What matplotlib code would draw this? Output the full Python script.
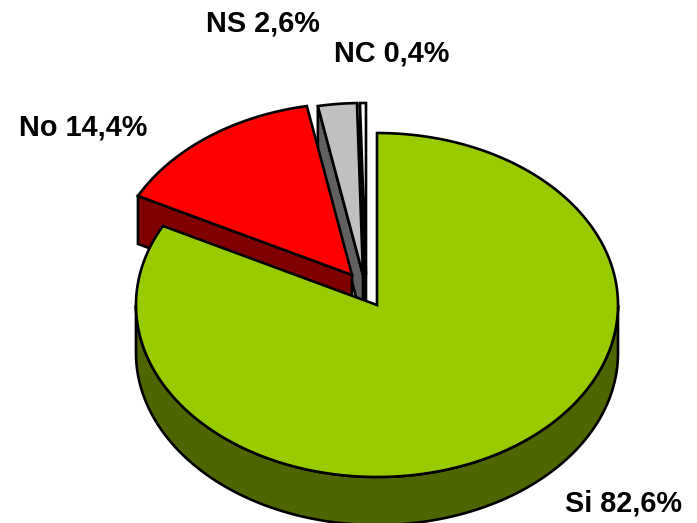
import numpy as np
import matplotlib
matplotlib.use("Agg")
import matplotlib.pyplot as plt
from matplotlib.patches import Polygon

plt.rcParams["font.family"] = ["Liberation Sans", "DejaVu Sans"]

labels = ["Si", "No", "NS", "NC"]
shares = [82.6, 14.4, 2.6, 0.4]
top_colors = ["#99cc00", "#ff0000", "#c0c0c0", "#ffffff"]
side_colors = ["#4d6600", "#800000", "#606060", "#808080"]
explode_dx = [0, -25, -14, -11]
explode_dy = [0, -30, -30, -30]
label_text = ["Si 82,6%", "No 14,4%", "NS 2,6%", "NC 0,4%"]
label_x = [565, 19, 206, 334]
label_y = [511, 135, 32, 62]

CX, CY = 377, 305
RX, RY = 241, 172
DEPTH = 48
LW = 1.9


def rim(cx, cy, t0, t1):
    # t in degrees, clockwise from 12 o'clock
    t = np.radians(np.linspace(t0, t1, max(int(abs(t1 - t0)) * 2, 2) + 1))
    return np.column_stack([cx + RX * np.sin(t), cy - RY * np.cos(t)])


def draw_slice(ax, i, t0, t1):
    cx, cy = CX + explode_dx[i], CY + explode_dy[i]
    kw = dict(edgecolor="black", linewidth=LW, joinstyle="miter", closed=True)
    apex = np.array([cx, cy])
    down = np.array([0, DEPTH])

    # cut faces (first edge is the one seen from the front here)
    start = rim(cx, cy, t0, t0)[0]
    ax.add_patch(Polygon([start, apex, apex + down, start + down],
                         facecolor=side_colors[i], **kw))

    # outer wall, only the lower half of the ellipse shows
    a, b = max(t0, 90), min(t1, 270)
    if a < b:
        arc = rim(cx, cy, a, b)
        ax.add_patch(Polygon(np.vstack([arc, (arc + down)[::-1]]),
                             facecolor=side_colors[i], **kw))

    top = np.vstack([apex, rim(cx, cy, t0, t1)])
    ax.add_patch(Polygon(top, facecolor=top_colors[i], **kw))


def main():
    fig = plt.figure(figsize=(6.97, 5.23), dpi=100)
    ax = fig.add_axes([0, 0, 1, 1])
    ax.set_xlim(0, 697)
    ax.set_ylim(523, 0)
    ax.axis("off")

    edges = np.concatenate([[0], np.cumsum(shares) / np.sum(shares) * 360])
    # back slices first, the big one goes over them
    for i in reversed(range(len(shares))):
        draw_slice(ax, i, edges[i], edges[i + 1])

    for txt, x, y in zip(label_text, label_x, label_y):
        ax.text(x, y, txt, fontsize=20.8, fontweight="bold", color="black",
                ha="left", va="baseline")

    fig.savefig("out.png", dpi=100)
    plt.close(fig)


if __name__ == "__main__":
    main()
